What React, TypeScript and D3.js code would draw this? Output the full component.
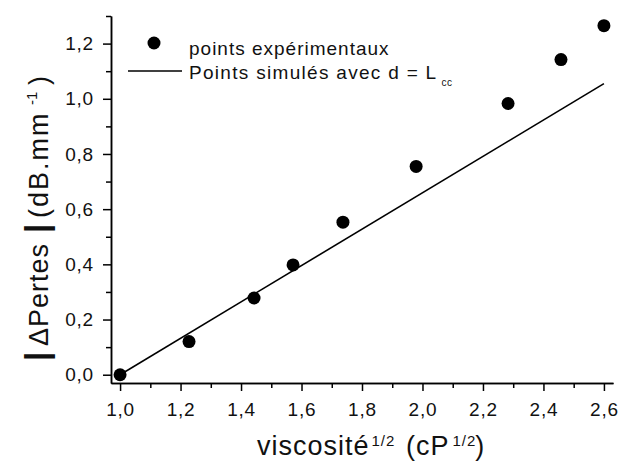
import { useEffect, useRef } from 'react';
import * as d3 from 'd3';

// racine de la viscosité (cP^1/2) et pertes mesurées (dB/mm)
const viscoRoot = [1.0, 1.228, 1.443, 1.572, 1.737, 1.979, 2.283, 2.458, 2.6];
const pertesExp = [0.0, 0.12, 0.278, 0.398, 0.553, 0.755, 0.983, 1.142, 1.265];

// courbe simulée avec d = Lcc
const simX = [1.0, 2.6];
const simY = [0.0, 1.055];

const xMajor = [1.0, 1.2, 1.4, 1.6, 1.8, 2.0, 2.2, 2.4, 2.6];
const xMinor = [1.1, 1.3, 1.5, 1.7, 1.9, 2.1, 2.3, 2.5];
const yMajor = [0.0, 0.2, 0.4, 0.6, 0.8, 1.0, 1.2];
const yMinor = [0.1, 0.3, 0.5, 0.7, 0.9, 1.1, 1.3];

const legendLabels = ['points expérimentaux', 'Points simulés avec d = L'];

const WIDTH = 618;
const HEIGHT = 462;
const FONT = "'Liberation Sans', Arial, sans-serif";

export default function App() {
  const svgRef = useRef<SVGSVGElement>(null);

  useEffect(() => {
    if (!svgRef.current) return;
    const svg = d3.select(svgRef.current);
    svg.selectAll('*').remove();

    const x = d3.scaleLinear().domain([0.97, 2.63]).range([111, 613]);
    const y = d3.scaleLinear().domain([-0.03, 1.3]).range([383, 16]);

    const fr = d3.formatLocale({ decimal: ',', thousands: ' ', grouping: [3], currency: ['', ''] });
    const fmt = fr.format('.1f');

    const styleAxis = (g: d3.Selection<SVGGElement, unknown, null, undefined>) => {
      g.selectAll('path, line').attr('stroke', '#000').attr('stroke-width', 1.5);
      g.selectAll('text')
        .attr('fill', '#111')
        .style('font-family', FONT)
        .style('font-size', '19px')
        .style('letter-spacing', '0.8px');
    };

    // axe X
    const gx = svg.append('g').attr('transform', `translate(0,${y.range()[0]})`);
    gx.call(
      d3.axisBottom(x).tickValues(xMajor).tickFormat(d => fmt(d as number))
        .tickSize(8).tickSizeOuter(0).tickPadding(12)
    );
    styleAxis(gx);
    const gxm = svg.append('g').attr('transform', `translate(0,${y.range()[0]})`);
    gxm.call(d3.axisBottom(x).tickValues(xMinor).tickFormat(() => '').tickSize(5).tickSizeOuter(0));
    styleAxis(gxm);

    // axe Y
    const gy = svg.append('g').attr('transform', `translate(${x.range()[0]},0)`);
    gy.call(
      d3.axisLeft(y).tickValues(yMajor).tickFormat(d => fmt(d as number))
        .tickSize(8).tickSizeOuter(0).tickPadding(9)
    );
    styleAxis(gy);
    const gym = svg.append('g').attr('transform', `translate(${x.range()[0]},0)`);
    gym.call(d3.axisLeft(y).tickValues(yMinor).tickFormat(() => '').tickSize(5).tickSizeOuter(0));
    styleAxis(gym);

    // droite simulée
    const line = d3.line<number>().x((_, i) => x(simX[i])).y(d => y(d));
    svg.append('path')
      .datum(simY)
      .attr('d', line)
      .attr('fill', 'none')
      .attr('stroke', '#000')
      .attr('stroke-width', 1.6);

    // points expérimentaux
    svg.append('g')
      .selectAll('circle')
      .data(pertesExp)
      .enter()
      .append('circle')
      .attr('cx', (_, i) => x(viscoRoot[i]))
      .attr('cy', d => y(d))
      .attr('r', 6.5)
      .attr('fill', '#000');

    // légende
    const leg = svg.append('g').style('font-family', FONT).style('font-size', '19px');
    leg.append('circle').attr('cx', 154).attr('cy', 43).attr('r', 6.5).attr('fill', '#000');
    leg.append('text').attr('x', 189).attr('y', 55).attr('fill', '#111')
      .style('letter-spacing', '1px').text(legendLabels[0]);
    leg.append('line').attr('x1', 128).attr('x2', 182).attr('y1', 71).attr('y2', 71)
      .attr('stroke', '#000').attr('stroke-width', 1.6);
    const t2 = leg.append('text').attr('x', 189).attr('y', 79).attr('fill', '#111')
      .style('letter-spacing', '1.3px');
    t2.append('tspan').text(legendLabels[1]);
    t2.append('tspan').attr('dx', 4).attr('dy', 7).style('font-size', '10px').style('letter-spacing', '0.5px').text('cc');

    // titre X
    const tx = svg.append('text')
      .attr('x', 257).attr('y', 455)
      .attr('fill', '#111')
      .style('font-family', FONT).style('font-size', '27px').style('letter-spacing', '1px');
    tx.append('tspan').text('viscosité');
    tx.append('tspan').attr('dx', 2).attr('dy', -9).style('font-size', '15px').text('1/2');
    tx.append('tspan').attr('dx', 2).attr('dy', 9).text(' (cP');
    tx.append('tspan').attr('dx', 3).attr('dy', -9).style('font-size', '15px').text('1/2');
    tx.append('tspan').attr('dx', -1).attr('dy', 9).text(')');

    // titre Y (repère tourné : abscisse = -ordonnée écran)
    const ty = svg.append('g')
      .attr('transform', 'translate(48,0) rotate(-90)')
      .attr('fill', '#111')
      .style('font-family', FONT).style('font-size', '27px');
    ty.append('text').attr('x', -361).style('font-size', '33px').style('font-weight', 'bold').text('|');
    ty.append('text').attr('x', -346).style('letter-spacing', '1px').text('ΔPertes');
    ty.append('text').attr('x', -233).style('font-size', '33px').style('font-weight', 'bold').text('|');
    ty.append('text').attr('x', -218).style('letter-spacing', '2px').text('(dB.mm');
    ty.append('text').attr('x', -105).attr('y', -11).style('font-size', '15px').text('-1');
    ty.append('text').attr('x', -85).text(')');
  }, []);

  return (
    <svg
      ref={svgRef}
      width={WIDTH}
      height={HEIGHT}
      style={{ position: 'absolute', left: 0, top: 0, background: '#fff' }}
    />
  );
}
